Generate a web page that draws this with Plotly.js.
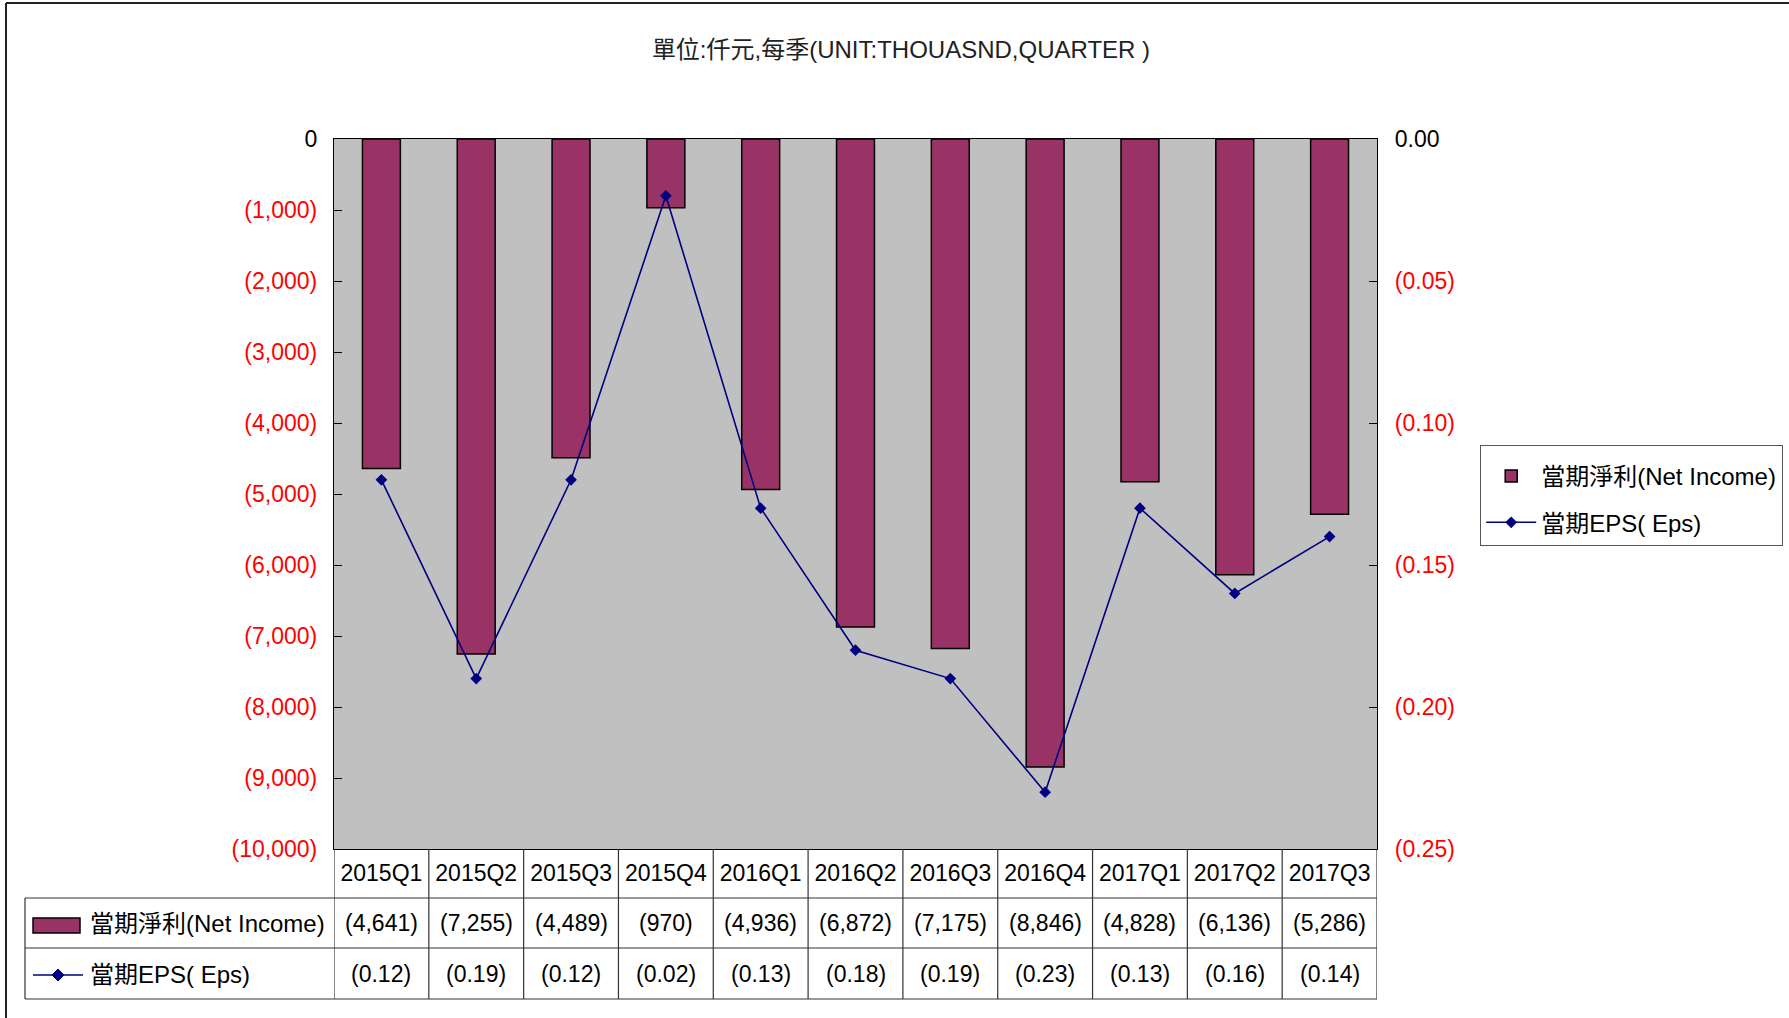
<!DOCTYPE html>
<html><head><meta charset="utf-8">
<script src="https://cdn.plot.ly/plotly-3.0.1.min.js"></script>
<style>body{margin:0;background:#fff}#chart{width:1789px;height:1018px}</style>
</head><body><div id="chart"></div>
<script>
const categories = ['2015Q1','2015Q2','2015Q3','2015Q4','2016Q1','2016Q2','2016Q3','2016Q4','2017Q1','2017Q2','2017Q3'];
const netIncome = [-4641,-7255,-4489,-970,-4936,-6872,-7175,-8846,-4828,-6136,-5286];
const eps = [-0.12,-0.19,-0.12,-0.02,-0.13,-0.18,-0.19,-0.23,-0.13,-0.16,-0.14];
const leftTickVals = [0,-1000,-2000,-3000,-4000,-5000,-6000,-7000,-8000,-9000,-10000];
const rightTickVals = [0,-0.05,-0.10,-0.15,-0.20,-0.25];
const seriesNames = ['當期淨利(Net Income)','當期EPS( Eps)'];
const titleText = '單位:仟元,每季(UNIT:THOUASND,QUARTER )';

function paren(v, dec){
  const s = Math.abs(v).toLocaleString('en-US',{minimumFractionDigits:dec,maximumFractionDigits:dec});
  return v < 0 ? '(' + s + ')' : s;
}

const W=1789, H=1018, L=334, R=1377, T=139, B=849;
const px = p => (p - L) / (R - L);
const py = p => (B - p) / (B - T);
const FONT = 'Liberation Sans, Arial, Noto Sans CJK TC, sans-serif';
const MAROON = '#993366', NAVY = '#000080';

const rowLines = [898, 948, 999];
const tableLeft = 25;
const rowCenters = [923, 974];

const shapes = [];
// outer frame
shapes.push({type:'line', xref:'paper', yref:'paper', x0:px(6), x1:px(W), y0:py(3), y1:py(3), line:{color:'#222', width:2}});
shapes.push({type:'line', xref:'paper', yref:'paper', x0:px(6), x1:px(6), y0:py(3), y1:py(H), line:{color:'#222', width:2}});
// table horizontal lines
rowLines.forEach(r => shapes.push({type:'line', xref:'paper', yref:'paper', x0:px(tableLeft), x1:1, y0:py(r), y1:py(r), line:{color:'#333', width:1.2}}));
shapes.push({type:'line', xref:'paper', yref:'paper', x0:px(tableLeft), x1:px(tableLeft), y0:py(rowLines[0]), y1:py(rowLines[2]), line:{color:'#333', width:1.2}});
// table vertical lines at category boundaries
for (let i = 0; i <= categories.length; i++) {
  shapes.push({type:'line', xref:'x', yref:'paper', x0:i-0.5, x1:i-0.5, y0:py(B), y1:py(rowLines[2]), line:{color:'#333', width:1.2}});
}
// table legend icons
shapes.push({type:'rect', xref:'paper', yref:'paper', x0:px(33), x1:px(80), y0:py(918), y1:py(933), fillcolor:MAROON, line:{color:'#000', width:1.5}});
shapes.push({type:'line', xref:'paper', yref:'paper', x0:px(33), x1:px(83), y0:py(975), y1:py(975), line:{color:NAVY, width:1.5}});
const dcx = 58, dcy = 975, ds = 6;
shapes.push({type:'path', xref:'paper', yref:'paper',
  path:`M${px(dcx-ds)},${py(dcy)} L${px(dcx)},${py(dcy-ds)} L${px(dcx+ds)},${py(dcy)} L${px(dcx)},${py(dcy+ds)} Z`,
  fillcolor:NAVY, line:{color:NAVY, width:1}});

const annotations = [];
const tfont = {family:FONT, size:23, color:'#000'};
seriesNames.forEach((n, k) => annotations.push({xref:'paper', yref:'paper', x:px(88), y:py(rowCenters[k]), text:n, showarrow:false, xanchor:'left', yanchor:'middle', font:{family:FONT, size:24, color:'#000'}}));
categories.forEach((c, i) => {
  annotations.push({xref:'x', yref:'paper', x:i, y:py(rowCenters[0]), text:paren(netIncome[i],0), showarrow:false, xanchor:'center', yanchor:'middle', font:tfont});
  annotations.push({xref:'x', yref:'paper', x:i, y:py(rowCenters[1]), text:paren(eps[i],2), showarrow:false, xanchor:'center', yanchor:'middle', font:tfont});
});

const traces = [
  {type:'bar', x:categories, y:netIncome, name:seriesNames[0], width:0.4, legendgroup:'a',
   marker:{color:MAROON, line:{color:'#000', width:1.5}}},
  {type:'scatter', mode:'lines+markers', x:categories, y:eps, name:seriesNames[1], yaxis:'y2', legendgroup:'b',
   line:{color:NAVY, width:1.6}, marker:{symbol:'diamond', size:9, color:NAVY}}
];

const layout = {
  width:W, height:H,
  margin:{l:L, r:W-R, t:T, b:H-B, pad:0, autoexpand:false},
  paper_bgcolor:'#fff', plot_bgcolor:'#C0C0C0',
  font:{family:FONT, size:23, color:'#000'},
  title:{text:titleText, x:901/W, xanchor:'center', y:1-50/H, yanchor:'middle', xref:'container', yref:'container',
         font:{family:FONT, size:24, color:'#222'}},
  showlegend:true,
  legend:{x:px(1480), y:py(445), xanchor:'left', yanchor:'top', bgcolor:'#fff', bordercolor:'#555', borderwidth:1.2,
          font:{family:FONT, size:24, color:'#000'}, tracegroupgap:12, itemwidth:50,
          title:{text:' ', font:{size:6}}},
  bargap:0.6,
  xaxis:{type:'category', range:[-0.5, categories.length-0.5], showline:true, mirror:true, linecolor:'#000', linewidth:1.2,
         showgrid:false, zeroline:false, ticks:'', tickfont:{family:FONT, size:23, color:'#000'}, ticklabelstandoff:3},
  yaxis:{range:[-10000, 0], tickvals:leftTickVals,
         ticktext:leftTickVals.map(v => v === 0 ? '<span style="color:#000">0</span>' : paren(v,0)),
         tickfont:{family:FONT, size:23, color:'#FF0000'},
         ticks:'inside', ticklen:8, tickcolor:'#000', showline:true, linecolor:'#000', linewidth:1.2,
         showgrid:false, zeroline:false, ticklabelstandoff:11},
  yaxis2:{overlaying:'y', side:'right', range:[-0.25, 0], tickvals:rightTickVals,
          ticktext:rightTickVals.map(v => v === 0 ? '<span style="color:#000">0.00</span>' : paren(v,2)),
          tickfont:{family:FONT, size:23, color:'#FF0000'},
          ticks:'inside', ticklen:8, tickcolor:'#000', showline:true, linecolor:'#000', linewidth:1.2,
          showgrid:false, zeroline:false, ticklabelstandoff:12},
  shapes:shapes, annotations:annotations
};

Plotly.newPlot('chart', traces, layout, {staticPlot:true, displayModeBar:false});
</script></body></html>
